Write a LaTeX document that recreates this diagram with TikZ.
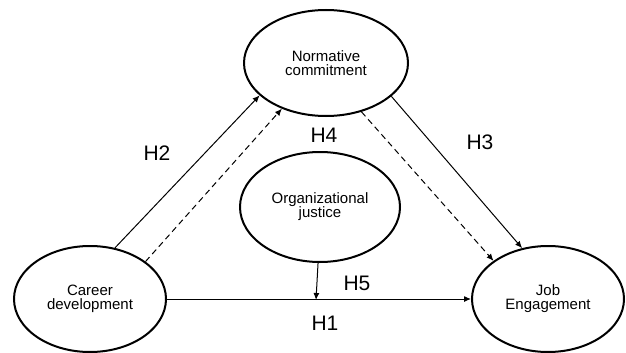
\documentclass[tikz,border=0pt]{standalone}
\usepackage{fontspec}
\setmainfont{Liberation Sans}
\usetikzlibrary{shapes.geometric,arrows.meta}
\begin{document}
\begin{tikzpicture}[x=1pt,y=-1pt,
  construct/.style={ellipse,draw,line width=2pt,inner sep=0pt,align=center,
    font=\fontsize{15}{14}\selectfont},
  link/.style={line width=1pt,-{Latex[length=7pt,width=6pt]}},
  dlink/.style={link,dash pattern=on 6pt off 4pt},
  hyp/.style={font=\fontsize{21}{21}\selectfont,inner sep=0pt}]
\useasboundingbox (0,0) rectangle (626,353);
\node[construct,minimum width=152pt,minimum height=106pt] (cd) at (90,299) {Career\\development};
\node[construct,minimum width=164pt,minimum height=106pt] (nc) at (326,63) {Normative\\commitment};
\node[construct,minimum width=160pt,minimum height=110pt] (oj) at (320,207) {Organizational\\justice};
\node[construct,minimum width=152pt,minimum height=106pt] (je) at (548,299) {Job\\Engagement};
\coordinate (m) at (316,300);
\draw[link] (cd.0) -- (je.180);
\draw[link] (cd.64) -- (nc.206);
\draw[dlink] (cd.34) -- (nc.226);
\draw[link] (nc.333) -- (je.117);
\draw[dlink] (nc.306) -- (je.145);
\draw[link] (oj.268) -- (m);
\node[hyp] (h1) at (325,323) {H1};
\node[hyp] (h2) at (157,153) {H2};
\node[hyp] (h3) at (480,142) {H3};
\node[hyp] (h4) at (324,135) {H4};
\node[hyp] (h5) at (357,283) {H5};
\end{tikzpicture}
\end{document}
